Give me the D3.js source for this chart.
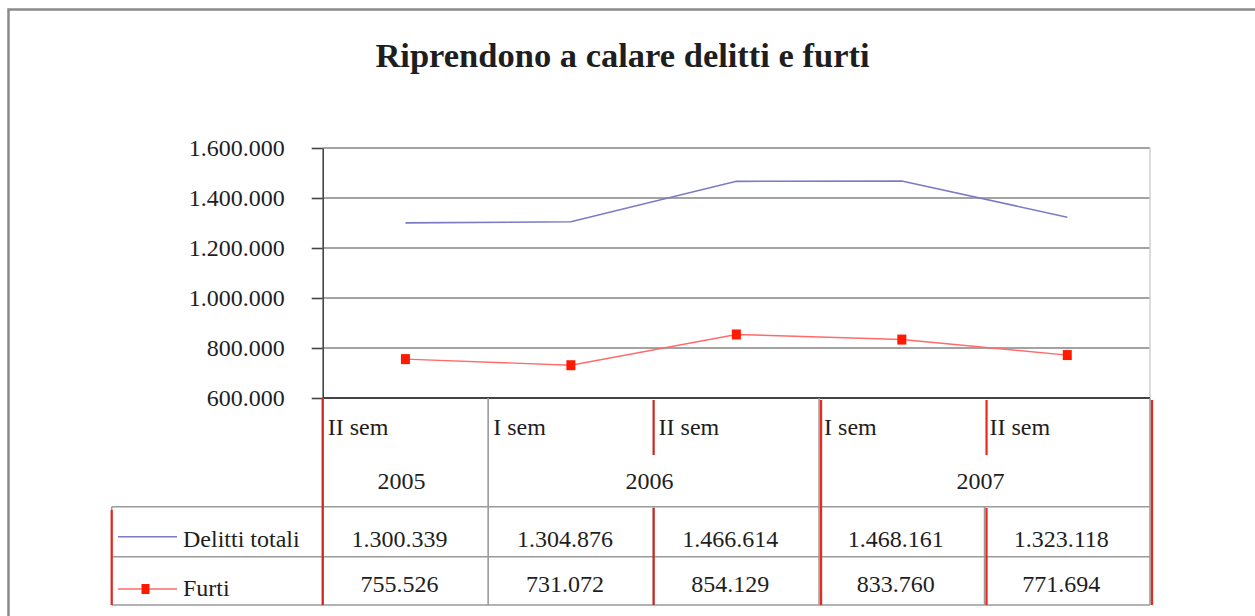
<!DOCTYPE html>
<html>
<head>
<meta charset="utf-8">
<script src="https://cdn.jsdelivr.net/npm/d3@7"></script>
<style>
  body { margin: 0; background: #fff; }
  text { font-family: "Liberation Serif", "Times New Roman", serif; fill: #1e1e1e; }
</style>
</head>
<body>
<div class="chart"></div>
<script>
// data
var semestri = ["II sem", "I sem", "II sem", "I sem", "II sem"];
var anni = ["2005", "2006", "2007"];
var anniSpan = [1, 2, 2];
var serie = ["Delitti totali", "Furti"];
var delittiTotali = [1300339, 1304876, 1466614, 1468161, 1323118];
var furti = [755526, 731072, 854129, 833760, 771694];
var yTicks = [600000, 800000, 1000000, 1200000, 1400000, 1600000];
var titolo = "Riprendono a calare delitti e furti";

var svgWidth = 1255;
var svgHeight = 616;

var plot = { left: 322.7, right: 1150, top: 148, bottom: 398 };
var table = { left: 111.7, yearRow: 506.7, row1: 556.7, bottom: 605 };

var itFormat = d3.formatLocale({ decimal: ",", thousands: ".", grouping: [3], currency: ["€", ""] }).format(",");

var svg = d3.select(".chart")
  .append("svg")
  .attr("width", svgWidth)
  .attr("height", svgHeight);

// outer frame
svg.append("rect")
  .attr("x", 8.5)
  .attr("y", 9.5)
  .attr("width", 1300)
  .attr("height", 700)
  .attr("fill", "none")
  .attr("stroke", "#8a8a8a")
  .attr("stroke-width", 2.5);

// title
svg.append("text")
  .attr("x", 622.5)
  .attr("y", 67)
  .attr("text-anchor", "middle")
  .attr("font-size", "34.5px")
  .attr("font-weight", "bold")
  .attr("fill", "#111")
  .text(titolo);

var xScale = d3.scaleBand()
  .domain(d3.range(semestri.length))
  .range([plot.left, plot.right])
  .padding(0);

var yScale = d3.scaleLinear()
  .domain([600000, 1600000])
  .range([plot.bottom, plot.top]);

var bw = xScale.bandwidth();

// gridlines
svg.append("g")
  .selectAll("line")
  .data(yTicks.slice(1))
  .enter()
  .append("line")
  .attr("x1", plot.left)
  .attr("x2", plot.right)
  .attr("y1", d => yScale(d))
  .attr("y2", d => yScale(d))
  .attr("stroke", "#858585")
  .attr("stroke-width", 1.6);

// right border of plot area
svg.append("line")
  .attr("x1", plot.right).attr("x2", plot.right)
  .attr("y1", plot.top).attr("y2", plot.bottom)
  .attr("stroke", "#cfcfcf")
  .attr("stroke-width", 1.5);

// y axis
var leftAxis = d3.axisLeft(yScale)
  .tickValues(yTicks)
  .tickFormat(itFormat)
  .tickSize(11)
  .tickSizeOuter(0)
  .tickPadding(27);

var yAxis = svg.append("g")
  .attr("transform", `translate(${plot.left}, 0)`)
  .call(leftAxis);
yAxis.selectAll("text")
  .attr("font-size", "24px")
  .attr("font-family", "Liberation Serif, serif")
  .attr("fill", "#1e1e1e");
yAxis.selectAll("line, path")
  .attr("stroke", "#444")
  .attr("stroke-width", 1.6);

// bottom line of plot
svg.append("line")
  .attr("x1", plot.left).attr("x2", plot.right)
  .attr("y1", plot.bottom).attr("y2", plot.bottom)
  .attr("stroke", "#444")
  .attr("stroke-width", 1.8);

// table grid (gray)
var grid = svg.append("g")
  .attr("stroke", "#9a9a9a")
  .attr("stroke-width", 1.6);

[table.yearRow, table.row1, table.bottom].forEach(function(yy) {
  grid.append("line")
    .attr("x1", table.left).attr("x2", plot.right)
    .attr("y1", yy).attr("y2", yy);
});

grid.append("line")
  .attr("x1", table.left).attr("x2", table.left)
  .attr("y1", table.yearRow).attr("y2", table.bottom);

// year boundaries go full height, semester boundaries only in value rows
var yearEdges = [0];
anniSpan.forEach(function(s, i) { yearEdges.push(yearEdges[i] + s); });

d3.range(semestri.length + 1).forEach(function(i) {
  var xx = i < semestri.length ? xScale(i) : plot.right;
  var full = yearEdges.indexOf(i) >= 0;
  grid.append("line")
    .attr("x1", xx).attr("x2", xx)
    .attr("y1", full ? plot.bottom : table.yearRow)
    .attr("y2", table.bottom);
});

// red separators (as in the original render)
var red = svg.append("g")
  .attr("stroke", "#e8281c")
  .attr("stroke-width", 2.2);

red.append("line")
  .attr("x1", table.left).attr("x2", table.left)
  .attr("y1", 510).attr("y2", table.bottom);

d3.range(semestri.length + 1).forEach(function(i) {
  if (i === 1) return;
  var xx = (i < semestri.length ? xScale(i) : plot.right) + (i === 0 ? 0 : i === 2 ? 0 : 2);
  if (i === 2 || i === 4) {
    red.append("line")
      .attr("x1", xx).attr("x2", xx)
      .attr("y1", 400).attr("y2", 455);
    red.append("line")
      .attr("x1", xx).attr("x2", xx)
      .attr("y1", 508).attr("y2", table.bottom);
  } else {
    red.append("line")
      .attr("x1", xx).attr("x2", xx)
      .attr("y1", i === 0 ? plot.bottom : 400).attr("y2", table.bottom);
  }
});
red.selectAll("line").filter((d, i) => i === 1 || i === 2 || i === 3)
  .attr("stroke", "#c8281e");

// semester labels
svg.append("g")
  .selectAll("text")
  .data(semestri)
  .enter()
  .append("text")
  .attr("x", (d, i) => xScale(i) + 5)
  .attr("y", 435)
  .attr("font-size", "24px")
  .text(d => d);

// year labels
svg.append("g")
  .selectAll("text")
  .data(anni)
  .enter()
  .append("text")
  .attr("x", (d, i) => {
    var a = xScale(yearEdges[i]);
    var b = yearEdges[i + 1] < semestri.length ? xScale(yearEdges[i + 1]) : plot.right;
    return (a + b) / 2 - 4;
  })
  .attr("y", 489)
  .attr("text-anchor", "middle")
  .attr("font-size", "24px")
  .text(d => d);

// value rows
[delittiTotali, furti].forEach(function(vals, r) {
  svg.append("g")
    .selectAll("text")
    .data(vals)
    .enter()
    .append("text")
    .attr("x", (d, i) => xScale(i) + bw / 2 - 6)
    .attr("y", r === 0 ? 547 : 592)
    .attr("text-anchor", "middle")
    .attr("font-size", "24px")
    .text(d => itFormat(d));
});

// lines
var line = d3.line()
  .x((d, i) => xScale(i) + bw / 2)
  .y(d => yScale(d));

svg.append("path")
  .datum(delittiTotali)
  .attr("d", line)
  .attr("fill", "none")
  .attr("stroke", "#7b7bc4")
  .attr("stroke-width", 1.6);

svg.append("path")
  .datum(furti)
  .attr("d", line)
  .attr("fill", "none")
  .attr("stroke", "#ff6a6a")
  .attr("stroke-width", 1.4);

svg.append("g")
  .selectAll("rect")
  .data(furti)
  .enter()
  .append("rect")
  .attr("x", (d, i) => xScale(i) + bw / 2 - 4.5)
  .attr("y", d => yScale(d) - 5)
  .attr("width", 9)
  .attr("height", 10)
  .attr("fill", "#ff1a00");

// legend
var legendY = [536.7, 589];
var legendTextY = [547, 596];
serie.forEach(function(name, r) {
  svg.append("line")
    .attr("x1", 118).attr("x2", 177)
    .attr("y1", legendY[r]).attr("y2", legendY[r])
    .attr("stroke", r === 0 ? "#7b7bc4" : "#ff6a6a")
    .attr("stroke-width", 1.6);
  if (r === 1) {
    svg.append("rect")
      .attr("x", 141.5).attr("y", legendY[r] - 5)
      .attr("width", 8).attr("height", 10)
      .attr("fill", "#ff1a00");
  }
  svg.append("text")
    .attr("x", 183)
    .attr("y", legendTextY[r])
    .attr("font-size", "24px")
    .text(name);
});
</script>
</body>
</html>
